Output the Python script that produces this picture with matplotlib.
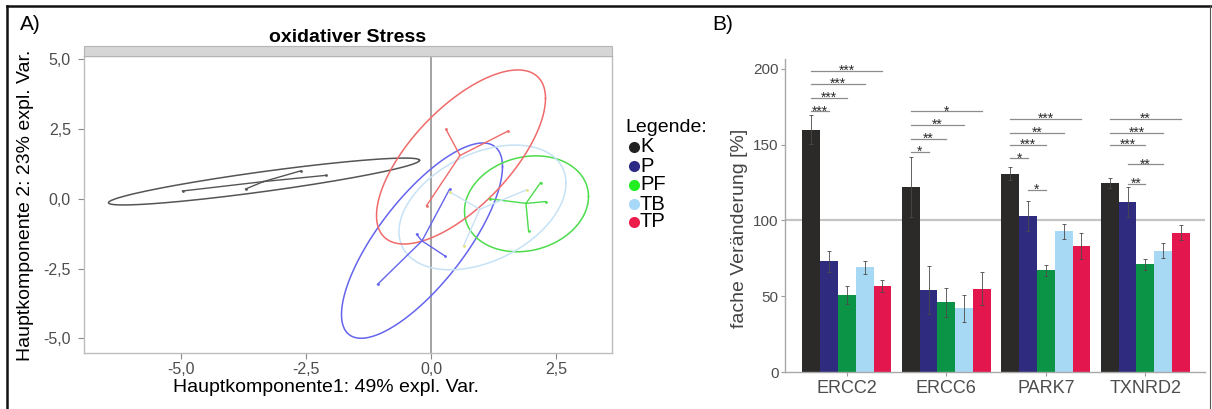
import numpy as np
import matplotlib.pyplot as plt
from matplotlib.lines import Line2D
from matplotlib.patches import Rectangle

plt.rcParams['font.family'] = ['Liberation Sans', 'DejaVu Sans']

W, H = 1212, 409
fig = plt.figure(figsize=(W / 100, H / 100), dpi=100)


def fx(px):
    return px / W


def fy(py):
    return 1 - py / H


# ---------------- data: panel A (PCA scores) ----------------
groups = ['K', 'P', 'PF', 'TB', 'TP']

k_x = [-4.97, -2.11, -2.61, -3.71]
k_y = [0.28, 0.84, 1.00, 0.35]
p_x = [0.37, -0.29, 0.27, -1.07]
p_y = [0.34, -1.27, -2.04, -3.07]
pf_x = [2.19, 2.29, 1.95, 1.17]
pf_y = [0.58, -0.10, -1.14, 0.00]
tb_x = [0.37, 1.91, 0.65]
tb_y = [0.25, 0.32, -1.69]
tp_x = [0.30, 1.53, -0.09]
tp_y = [2.49, 2.42, -0.25]

# ellipse: centre, offset to right-most point, half vertical chord
ell_cx = [-3.34, -0.18, 1.91, 1.03, 0.60]
ell_cy = [0.62, -1.50, -0.18, -0.31, 1.50]
ell_ax = [3.11, 1.61, 1.24, 1.67, 1.69]
ell_ay = [0.76, 2.65, 0.26, 0.87, 2.10]
ell_h = [0.36, 2.29, 1.70, 2.06, 2.31]

pca_colors = ['#555555', '#6464ee', '#4cdc4c', '#c6e2f6', '#f06a6a']

# ---------------- data: panel B (bars) ----------------
genes = ['ERCC2', 'ERCC6', 'PARK7', 'TXNRD2']
val_k = [160, 122, 131, 125]
val_p = [73, 54, 103, 112]
val_pf = [51, 46, 67, 71]
val_tb = [69, 42, 93, 80]
val_tp = [57, 55, 83, 92]
err_k = [9.5, 20, 4, 3.3]
err_p = [7, 16, 10, 10]
err_pf = [6, 9.5, 3.5, 3.7]
err_tb = [4, 9, 5, 5]
err_tp = [4, 11, 8.6, 5]
bar_colors = ['#2b2a28', '#2f2c80', '#0b9446', '#a7d9f4', '#e3174e']

sig_gene = [0, 0, 0, 0, 1, 1, 1, 1, 2, 2, 2, 2, 2, 3, 3, 3, 3, 3]
sig_from = [0, 0, 0, 0, 0, 0, 0, 0, 0, 0, 0, 0, 1, 0, 0, 0, 1, 1]
sig_to = [1, 2, 3, 4, 1, 2, 3, 4, 1, 2, 3, 4, 2, 2, 3, 4, 3, 2]
sig_y = [172, 181, 190, 199, 145, 154, 163, 172, 141, 150, 158, 167, 120,
         150, 158, 167, 137, 124]
sig_txt = ['***', '***', '***', '***', '*', '**', '**', '*', '*', '***',
           '**', '***', '*', '***', '***', '**', '**', '**']

# ---------------- panel A ----------------
axA = fig.add_axes([fx(84), fy(352.7), fx(612 - 84), (352.7 - 55.5) / H])
pts = [(k_x, k_y), (p_x, p_y), (pf_x, pf_y), (tb_x, tb_y), (tp_x, tp_y)]
axA.axvline(0, color='#8a8a8a', lw=1.1, zorder=1)
t = np.linspace(0, 2 * np.pi, 300)
for i, (xs, ys) in enumerate(pts):
    c = pca_colors[i]
    ex = ell_cx[i] + ell_ax[i] * np.cos(t)
    ey = ell_cy[i] + ell_ay[i] * np.cos(t) + ell_h[i] * np.sin(t)
    axA.plot(ex, ey, color=c, lw=1.1, zorder=2)
    mx, my = np.mean(xs), np.mean(ys)
    for x, y in zip(xs, ys):
        axA.plot([mx, x], [my, y], color=c, lw=1.0, zorder=3)
    dot = '#e4e47a' if groups[i] == 'TB' else c
    axA.plot(xs, ys, 'o', color=dot, ms=2, mec='none', zorder=4)

axA.set_xlim(-6.94, 3.62)
axA.set_ylim(-5.52, 5.14)
axA.set_xticks([-5, -2.5, 0, 2.5])
axA.set_xticklabels(['-5,0', '-2,5', '0,0', '2,5'])
axA.set_yticks([-5, -2.5, 0, 2.5, 5])
axA.set_yticklabels(['-5,0', '-2,5', '0,0', '2,5', '5,0'])
axA.tick_params(axis='both', colors='#8a8a8a', labelcolor='#4d4d4d',
                labelsize=11.5, length=4.5, width=0.8)
axA.tick_params(axis='y', pad=5)
axA.tick_params(axis='x', pad=2.5)
for s in axA.spines.values():
    s.set_color('#bdbdbd')
    s.set_linewidth(1)

# strip above panel A
fig.patches.append(Rectangle((fx(84), fy(55.5)), fx(612 - 84), 9.5 / H,
                             transform=fig.transFigure, facecolor='#d6d6d6',
                             edgecolor='#b5b5b5', lw=0.8))
fig.text(fx(348), fy(37), 'oxidativer Stress', fontsize=14,
         fontweight='bold', ha='center', va='center')
fig.text(fx(326), fy(388), 'Hauptkomponente1: 49% expl. Var.', fontsize=14,
         ha='center', va='center')
fig.text(fx(26), fy(205), 'Hauptkomponente 2: 23% expl. Var.', fontsize=14,
         ha='center', va='center', rotation=90)
fig.text(fx(20), fy(25), 'A)', fontsize=15, ha='left', va='center')

# legend
fig.text(fx(625), fy(127), 'Legende:', fontsize=14, ha='left', va='center')
leg_colors = ['#222222', '#2c2a85', '#22ee22', '#a8d8f8', '#ee1c4a']
leg_y = [147, 166, 185, 204, 222]
for g, c, yy in zip(groups, leg_colors, leg_y):
    fig.add_artist(Line2D([fx(634)], [fy(yy)], marker='o', ms=8,
                          color=c, mec='none', transform=fig.transFigure))
    fig.text(fx(640), fy(yy), g, fontsize=14.5, ha='left', va='center')

# ---------------- panel B ----------------
axB = fig.add_axes([fx(785.5), fy(372), fx(1205 - 785.5), (372 - 59) / H])
bw = 0.179
xg = np.arange(len(genes))
vals = [val_k, val_p, val_pf, val_tb, val_tp]
errs = [err_k, err_p, err_pf, err_tb, err_tp]
axB.axhline(100, color='#c4c4c4', lw=1.6, zorder=0)
for i in range(5):
    axB.bar(xg + (i - 2) * bw, vals[i], width=bw, color=bar_colors[i],
            zorder=2)
    axB.errorbar(xg + (i - 2) * bw, vals[i], yerr=errs[i], fmt='none',
                 ecolor='#4a4a4a', elinewidth=0.6, capsize=1.5,
                 capthick=0.6, zorder=3)

for g, a, b, y, s in zip(sig_gene, sig_from, sig_to, sig_y, sig_txt):
    x0 = g + (a - 2) * bw
    x1 = g + (b - 2) * bw
    axB.plot([x0, x1], [y, y], color='#8c8c8c', lw=0.9, zorder=3)
    axB.text((x0 + x1) / 2, y - 2.6, s, fontsize=10, ha='center',
             va='baseline', color='#2a2a2a')

axB.set_xlim(-0.617, 3.6)
axB.set_ylim(0, 206.6)
axB.set_xticks(xg)
axB.set_xticklabels(genes)
axB.set_yticks([0, 50, 100, 150, 200])
axB.tick_params(axis='both', colors='#9a9a9a', labelcolor='#4d4d4d',
                length=3, width=0.8)
axB.tick_params(axis='y', labelsize=11, pad=2)
axB.tick_params(axis='x', labelsize=13, pad=3)
axB.spines['top'].set_visible(False)
axB.spines['right'].set_visible(False)
for s in ['left', 'bottom']:
    axB.spines[s].set_color('#a8a8a8')
    axB.spines[s].set_linewidth(1)
fig.text(fx(740), fy(228), 'fache Veränderung [%]', fontsize=14,
         ha='center', va='center', rotation=90, color='#444444')
fig.text(fx(712), fy(24), 'B)', fontsize=15, ha='left', va='center')

# outer frame lines
fig.add_artist(Line2D([fx(7), fx(1212)], [fy(6), fy(6)], color='#111111',
                      lw=1.8, transform=fig.transFigure))
fig.add_artist(Line2D([fx(7), fx(7)], [fy(6), fy(409)], color='#111111',
                      lw=1.8, transform=fig.transFigure))
fig.add_artist(Line2D([fx(1210), fx(1210)], [fy(6), fy(409)],
                      color='#555555', lw=0.8, transform=fig.transFigure))

fig.savefig('out.png', dpi=100)
